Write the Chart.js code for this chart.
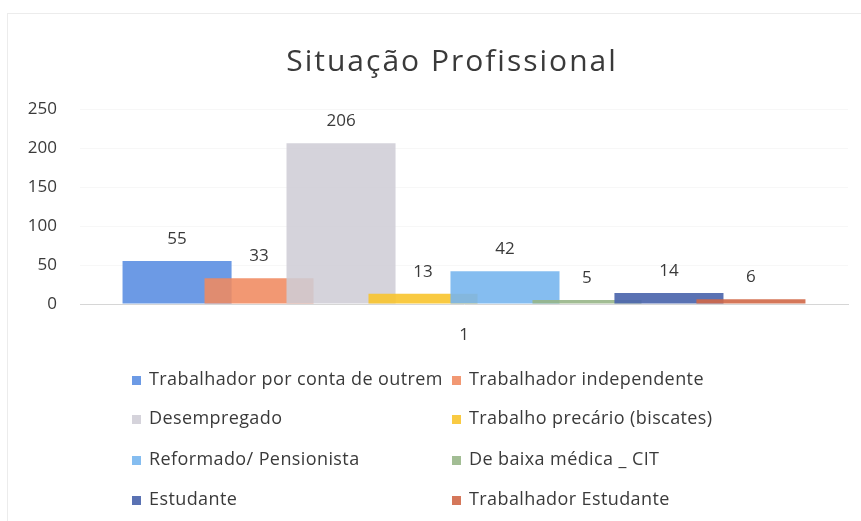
<!DOCTYPE html>
<html>
<head>
<meta charset="utf-8">
<script src="https://cdn.jsdelivr.net/npm/chart.js@4.4.0/dist/chart.umd.min.js"></script>
<style>
  body { margin: 0; background: #fff; }
  #wrap { position: relative; width: 861px; height: 521px; }
  #frame { position: absolute; left: 7px; top: 13px; width: 860px; height: 520px;
           border-left: 1px solid #ececec; border-top: 1px solid #ececec; }
</style>
</head>
<body>
<div id="wrap">
  <div id="frame"></div>
  <canvas id="myChart" width="861" height="521"></canvas>
</div>
<script>
// data
const title = 'Situação Profissional';
const categories = ['1'];
const seriesNames = [
    'Trabalhador por conta de outrem',
    'Trabalhador independente',
    'Desempregado',
    'Trabalho precário (biscates)',
    'Reformado/ Pensionista',
    'De baixa médica _ CIT',
    'Estudante',
    'Trabalhador Estudante'
];
const seriesValues = [55, 33, 206, 13, 42, 5, 14, 6];
const seriesColors = ['rgba(92,143,226,0.9)', 'rgba(240,138,96,0.88)', 'rgba(207,205,214,0.88)', 'rgba(248,196,46,0.9)',
    'rgba(120,182,238,0.9)', 'rgba(152,182,136,0.9)', 'rgba(76,102,172,0.92)', 'rgba(208,104,72,0.9)'];
const yTicks = [0, 50, 100, 150, 200, 250];

const FONT = "'Open Sans', sans-serif";
const TEXT = '#3a3a3a';

// later series sit on top of earlier ones, like the original
const drawForward = {
    id: 'drawForward',
    beforeDatasetsDraw(chart) {
        chart.getSortedVisibleDatasetMetas().forEach((meta) => meta.controller.draw());
        return false;
    }
};

// value above every bar
const valueLabels = {
    id: 'valueLabels',
    afterDraw(chart) {
        const ctx = chart.ctx;
        ctx.save();
        ctx.font = '17px ' + FONT;
        ctx.fillStyle = TEXT;
        ctx.textAlign = 'center';
        ctx.textBaseline = 'middle';
        chart.data.datasets.forEach((ds, i) => {
            chart.getDatasetMeta(i).data.forEach((bar, j) => {
                ctx.fillText(ds.data[j], bar.x, bar.y - 22);
            });
        });
        ctx.restore();
    }
};

// title and two-column legend
const titleAndLegend = {
    id: 'titleAndLegend',
    afterDraw(chart) {
        const ctx = chart.ctx;
        ctx.save();
        ctx.fillStyle = TEXT;
        ctx.font = '30px ' + FONT;
        ctx.letterSpacing = '2px';
        ctx.textAlign = 'center';
        ctx.textBaseline = 'middle';
        ctx.fillText(title, 452, 62);

        ctx.font = '18px ' + FONT;
        ctx.letterSpacing = '0.4px';
        ctx.textAlign = 'left';
        const cols = [132, 452];
        const rows = [380, 419, 460, 500];
        chart.data.datasets.forEach((ds, i) => {
            const x = cols[i % 2];
            const y = rows[Math.floor(i / 2)];
            ctx.fillStyle = ds.backgroundColor;
            ctx.fillRect(x, y - 4, 9, 9);
            ctx.fillStyle = TEXT;
            ctx.fillText(ds.label, x + 17, y);
        });
        ctx.restore();
    }
};

function mainEvent() {
    const datasets = seriesNames.map((name, i) => ({
        label: name,
        data: [seriesValues[i]],
        backgroundColor: seriesColors[i],
        borderWidth: 0,
        categoryPercentage: 0.854,
        barPercentage: 1.33
    }));

    new Chart(document.querySelector('#myChart'), {
        type: 'bar',
        data: { labels: categories, datasets: datasets },
        options: {
            responsive: false,
            animation: false,
            events: [],
            layout: { padding: { top: 109, right: 13, bottom: 167, left: 0 } },
            plugins: {
                legend: { display: false },
                title: { display: false },
                tooltip: { enabled: false }
            },
            scales: {
                x: {
                    grid: { display: false, drawTicks: false },
                    border: { color: '#d6d6d6', width: 1 },
                    ticks: { color: TEXT, font: { family: FONT, size: 17 }, padding: 21 },
                    afterFit: (scale) => { scale.height = 50; }
                },
                y: {
                    min: 0,
                    max: 250,
                    afterBuildTicks: (scale) => { scale.ticks = yTicks.map((v) => ({ value: v })); },
                    grid: { color: 'rgba(0,0,0,0.03)', drawTicks: false },
                    border: { display: false },
                    ticks: { color: TEXT, font: { family: FONT, size: 17 }, padding: 23 },
                    afterFit: (scale) => { scale.width = 80; }
                }
            }
        },
        plugins: [drawForward, valueLabels, titleAndLegend]
    });
}

document.addEventListener('DOMContentLoaded', () => mainEvent());
</script>
</body>
</html>
